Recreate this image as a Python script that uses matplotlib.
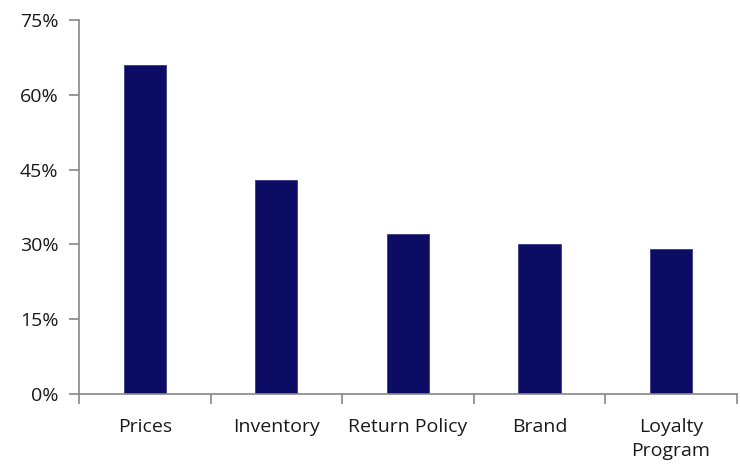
import matplotlib.pyplot as plt
from matplotlib.ticker import FuncFormatter, FixedLocator

categories = ["Prices", "Inventory", "Return Policy", "Brand", "Loyalty\nProgram"]
shares = [66, 43, 32, 30, 29]
y_ticks = [0, 15, 30, 45, 60, 75]

plt.rcParams['font.family'] = ['Open Sans', 'DejaVu Sans']

fig = plt.figure(figsize=(7.4, 4.65), dpi=100)
ax = fig.add_axes([0.1068, 0.1527, 0.889, 0.8043])

x = range(len(categories))
ax.bar(x, shares, width=0.32, color='#0c0c64', edgecolor='#3a3a80', linewidth=0.6)

ax.set_xlim(-0.5, len(categories) - 0.5)
ax.set_ylim(0, 75)
ax.set_yticks(y_ticks)
ax.yaxis.set_major_formatter(FuncFormatter(lambda v, p: f"{v:.0f}%"))

# category labels sit between boundary ticks
ax.set_xticks(list(x))
ax.set_xticklabels(categories, fontsize=14, color='#1a1a1a', linespacing=1.45)
ax.tick_params(axis='x', which='major', length=0, pad=17)
ax.xaxis.set_minor_locator(FixedLocator([i - 0.5 for i in range(len(categories) + 1)]))
ax.tick_params(axis='x', which='minor', length=7, color='#888888', width=1.2)

ax.tick_params(axis='y', length=7, color='#888888', width=1.2, labelsize=14,
               labelcolor='#1a1a1a', pad=8)

for side in ['top', 'right']:
    ax.spines[side].set_visible(False)
for side in ['left', 'bottom']:
    ax.spines[side].set_color('#888888')
    ax.spines[side].set_linewidth(1.2)

fig.savefig('out.png', dpi=100)
